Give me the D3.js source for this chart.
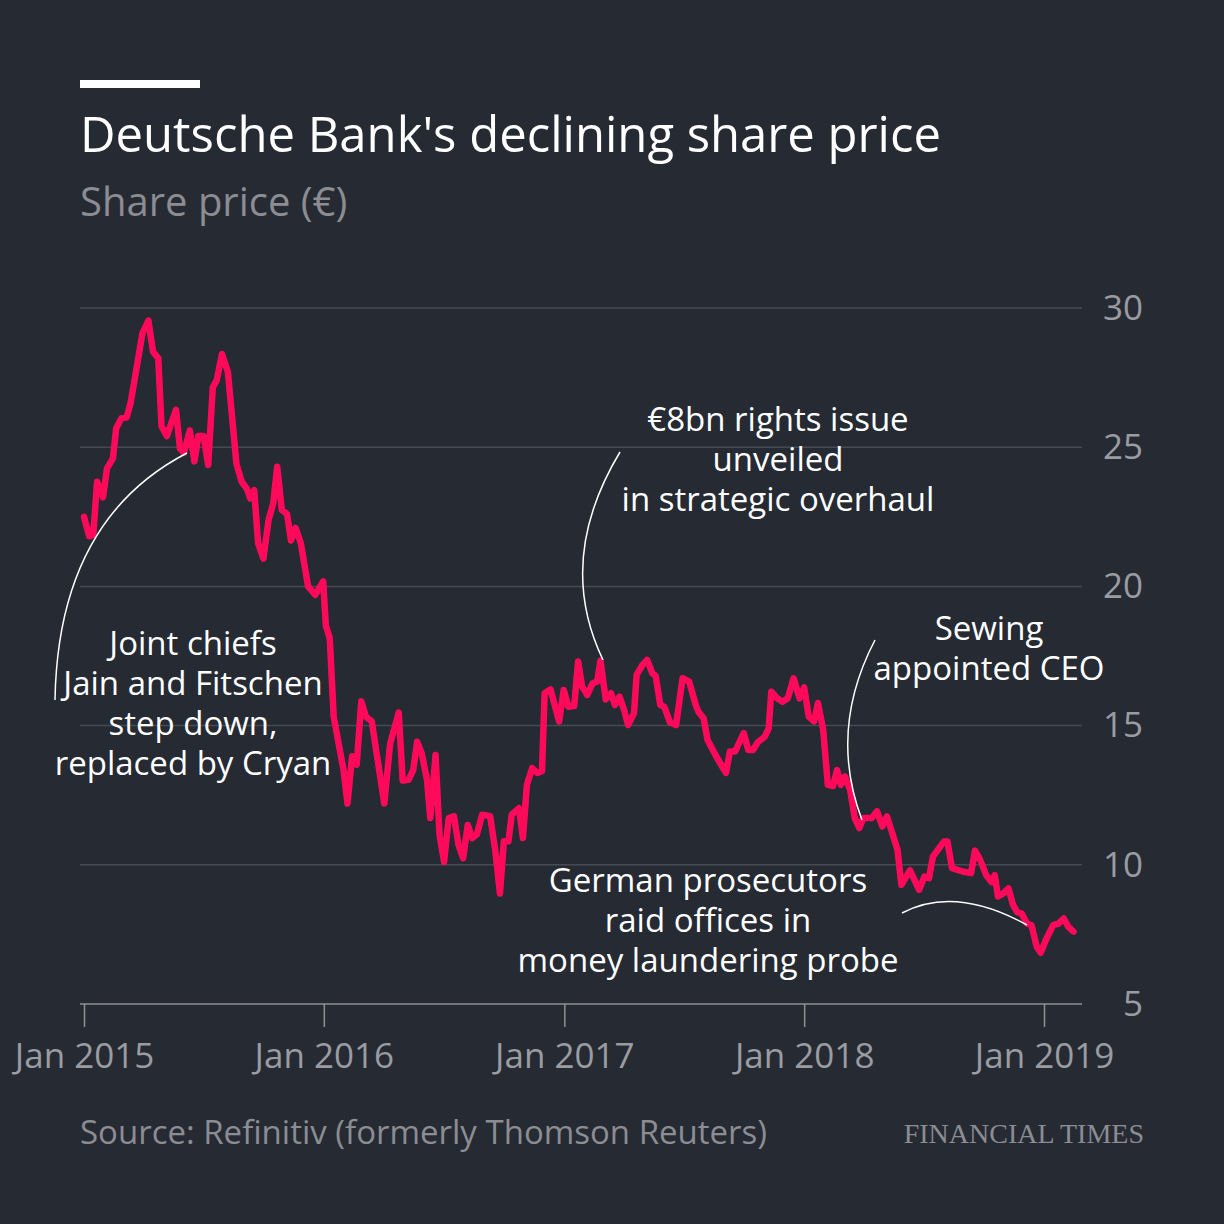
<!DOCTYPE html>
<html>
<head>
<meta charset="utf-8">
<script src="https://cdn.jsdelivr.net/npm/d3@7"></script>
<style>
  html, body { margin: 0; padding: 0; background: #262a33; }
  svg { display: block; }
</style>
</head>
<body>
<div id="chart"></div>
<script>
// Share price data (weekly-ish closes)
const dates = [
  "2015-01-01","2015-01-09","2015-01-15","2015-01-21","2015-01-30","2015-02-05","2015-02-14","2015-02-19",
  "2015-02-27","2015-03-07","2015-03-13","2015-03-21","2015-03-31","2015-04-09","2015-04-16","2015-04-24",
  "2015-04-29","2015-05-07","2015-05-21","2015-05-27","2015-06-02","2015-06-11","2015-06-18","2015-06-24",
  "2015-07-02","2015-07-09","2015-07-16","2015-07-22","2015-07-30","2015-08-08","2015-08-21","2015-08-29",
  "2015-09-06","2015-09-11","2015-09-17","2015-09-23","2015-10-01","2015-10-09","2015-10-16","2015-10-22",
  "2015-10-29","2015-11-06","2015-11-12","2015-11-19","2015-11-27","2015-12-08","2015-12-19","2015-12-31",
  "2016-01-04","2016-01-10","2016-01-16","2016-01-23","2016-01-31","2016-02-06","2016-02-13","2016-02-20",
  "2016-02-27","2016-03-05","2016-03-14","2016-03-22","2016-04-02","2016-04-11","2016-04-24","2016-04-30",
  "2016-05-09","2016-05-16","2016-05-22","2016-05-29","2016-06-06","2016-06-11","2016-06-19","2016-06-25",
  "2016-07-02","2016-07-09","2016-07-17","2016-07-24","2016-07-31","2016-08-07","2016-08-14","2016-08-21",
  "2016-08-29","2016-09-10","2016-09-18","2016-09-25","2016-10-01","2016-10-08","2016-10-13","2016-10-24",
  "2016-10-30","2016-11-05","2016-11-13","2016-11-21","2016-11-28","2016-12-02","2016-12-11","2016-12-24",
  "2016-12-31","2017-01-07","2017-01-16","2017-01-22","2017-01-28","2017-02-05","2017-02-13","2017-02-20",
  "2017-02-25","2017-03-05","2017-03-13","2017-03-19","2017-03-26","2017-04-02","2017-04-08","2017-04-17",
  "2017-04-21","2017-04-30","2017-05-07","2017-05-15","2017-05-20","2017-05-27","2017-06-02","2017-06-11",
  "2017-06-20","2017-06-30","2017-07-10","2017-07-20","2017-07-24","2017-08-01","2017-08-07","2017-08-15",
  "2017-08-25","2017-09-04","2017-09-10","2017-09-18","2017-10-01","2017-10-08","2017-10-15","2017-10-23",
  "2017-11-02","2017-11-08","2017-11-12","2017-11-21","2017-11-29","2017-12-07","2017-12-16","2017-12-25",
  "2018-01-01","2018-01-08","2018-01-16","2018-01-22","2018-01-30","2018-02-06","2018-02-14","2018-02-20",
  "2018-02-26","2018-03-04","2018-03-12","2018-03-19","2018-03-26","2018-04-01","2018-04-14","2018-04-22",
  "2018-04-30","2018-05-07","2018-05-15","2018-05-23","2018-05-29","2018-06-11","2018-06-25","2018-07-03",
  "2018-07-10","2018-07-16","2018-08-02","2018-08-07","2018-08-14","2018-08-30","2018-09-12","2018-09-18",
  "2018-09-26","2018-10-05","2018-10-13","2018-10-18","2018-10-23","2018-10-31","2018-11-08","2018-11-15",
  "2018-11-21","2018-11-28","2018-12-06","2018-12-13","2018-12-21","2018-12-27","2019-01-05","2019-01-15",
  "2019-01-23","2019-01-31","2019-02-07","2019-02-15"
];
const prices = [
  22.5, 21.8, 21.85, 23.76, 23.2, 24.24, 24.6, 25.68,
  26.04, 26.07, 26.6, 27.7, 29.1, 29.55, 28.43, 28.2,
  25.75, 25.4, 26.34, 24.96, 24.8, 25.6, 24.49, 25.4,
  25.4, 24.36, 27.15, 27.4, 28.35, 27.7, 24.4, 23.76,
  23.5, 23.16, 23.46, 21.55, 21.0, 22.4, 22.98, 24.3,
  22.75, 22.6, 21.65, 22.1, 21.55, 20.0, 19.7, 20.18,
  18.6, 18.14, 15.32, 14.42, 13.4, 12.2, 13.9, 13.6,
  15.87, 15.32, 15.15, 13.9, 12.2, 14.36, 15.47, 13.03,
  13.05, 13.4, 14.42, 14.0, 13.05, 11.68, 13.94, 11.1,
  10.1, 11.68, 11.74, 10.71, 10.24, 11.43, 10.96, 11.1,
  11.8, 11.75, 10.5, 8.97, 10.85, 10.85, 11.8, 12.03,
  10.96, 12.87, 13.47, 13.3, 13.36, 16.16, 16.3, 15.15,
  16.28, 15.68, 15.7, 17.3, 16.41, 16.1, 16.52, 16.58,
  17.33, 15.94, 16.16, 15.74, 16.04, 15.56, 15.02, 15.44,
  16.82, 17.18, 17.36, 16.88, 16.78, 15.74, 15.68, 15.11,
  15.02, 16.7, 16.58, 15.74, 15.5, 15.26, 14.48, 14.12,
  13.7, 13.3, 14.07, 14.07, 14.73, 14.12, 14.12, 14.42,
  14.6, 14.9, 16.22, 15.98, 15.86, 15.98, 16.7, 15.98,
  16.37, 15.32, 15.15, 15.81, 14.84, 12.87, 12.83, 13.4,
  12.87, 13.17, 12.69, 11.68, 11.32, 11.68, 11.68, 11.92,
  11.38, 11.74, 11.14, 10.54, 9.28, 9.8, 9.1, 9.58,
  9.52, 10.3, 10.84, 10.84, 9.88, 9.76, 9.7, 10.51,
  10.17, 9.63, 9.38, 9.63, 8.86, 8.97, 9.15, 8.55,
  8.31, 8.25, 7.89, 7.83, 7.05, 6.84, 7.36, 7.83,
  7.89, 8.07, 7.77, 7.6
];
const yTicks = [5, 10, 15, 20, 25, 30];
const xTicks = ["2015-01-01", "2016-01-01", "2017-01-01", "2018-01-01", "2019-01-01"];

const annotations = [
  { lines: ["Joint chiefs", "Jain and Fitschen", "step down,", "replaced by Cryan"], x: 193, y: 655,
    path: "M55,700 Q58,520 187,453" },
  { lines: ["€8bn rights issue", "unveiled", "in strategic overhaul"], x: 778, y: 431,
    path: "M620,452 Q555,560 603,660" },
  { lines: ["Sewing", "appointed CEO"], x: 989, y: 640,
    path: "M875,640 Q828,730 862,820" },
  { lines: ["German prosecutors", "raid offices in", "money laundering probe"], x: 708, y: 892,
    path: "M902,913 Q955,885 1027,925" }
];

const W = 1224, H = 1224;
const sans = "'Open Sans', sans-serif";
const parse = d3.timeParse("%Y-%m-%d");
const data = dates.map((d, i) => ({ date: parse(d), value: prices[i] }));

const svg = d3.select("#chart").append("svg")
  .attr("width", W)
  .attr("height", H)
  .style("font-family", sans);

svg.append("rect").attr("width", W).attr("height", H).attr("fill", "#262a33");

// Header
svg.append("rect").attr("x", 80).attr("y", 80).attr("width", 120).attr("height", 8).attr("fill", "#ffffff");
svg.append("text").attr("x", 80).attr("y", 152)
  .attr("fill", "#ffffff").attr("font-size", 49)
  .text("Deutsche Bank's declining share price");
svg.append("text").attr("x", 80).attr("y", 216)
  .attr("fill", "#8b8d92").attr("font-size", 40)
  .text("Share price (€)");

// Scales
const x = d3.scaleTime()
  .domain([parse("2015-01-01"), parse("2019-01-01")])
  .range([84, 1044]);
const y = d3.scaleLinear()
  .domain([5, 30])
  .range([1004, 308]);

// Gridlines
svg.append("g")
  .selectAll("line")
  .data(yTicks.filter(t => t !== 5))
  .join("line")
  .attr("x1", 80).attr("x2", 1082)
  .attr("y1", d => y(d)).attr("y2", d => y(d))
  .attr("stroke", "#464a52").attr("stroke-width", 1.5);

// Y axis labels (right)
const yAxis = svg.append("g")
  .attr("transform", "translate(1143,0)")
  .call(d3.axisRight(y).tickValues(yTicks).tickSize(0).tickPadding(0));
yAxis.select(".domain").remove();
yAxis.selectAll("text")
  .attr("text-anchor", "end")
  .attr("fill", "#9a9ca1")
  .style("font-size", "35px")
  .style("font-family", sans);

// X axis
const xAxis = svg.append("g")
  .attr("transform", "translate(0,1004)")
  .call(d3.axisBottom(x)
    .tickValues(xTicks.map(parse))
    .tickSize(23)
    .tickSizeOuter(0)
    .tickPadding(0)
    .tickFormat(d3.timeFormat("Jan %Y")));
xAxis.select(".domain")
  .attr("d", "M80,0H1082")
  .attr("stroke", "#8f9196").attr("stroke-width", 1.5);
xAxis.selectAll(".tick line").attr("stroke", "#8f9196").attr("stroke-width", 1.5);
xAxis.selectAll("text")
  .attr("y", 64)
  .attr("dy", null)
  .attr("fill", "#9a9ca1")
  .style("font-size", "35px")
  .style("font-family", sans);

// Price line
const line = d3.line()
  .x(d => x(d.date))
  .y(d => y(d.value));

svg.append("path")
  .datum(data)
  .attr("d", line)
  .attr("fill", "none")
  .attr("stroke", "#ff0a5a")
  .attr("stroke-width", 6.5)
  .attr("stroke-linejoin", "round")
  .attr("stroke-linecap", "round");

// Annotations
const ann = svg.append("g");
annotations.forEach(a => {
  ann.append("path")
    .attr("d", a.path)
    .attr("fill", "none")
    .attr("stroke", "#ffffff")
    .attr("stroke-width", 1.5);
  ann.append("text")
    .attr("text-anchor", "middle")
    .attr("fill", "#ffffff")
    .attr("font-size", 33)
    .selectAll("tspan")
    .data(a.lines)
    .join("tspan")
    .attr("x", a.x)
    .attr("y", (d, i) => a.y + i * 40)
    .text(d => d);
});

// Footer
svg.append("text").attr("x", 80).attr("y", 1144)
  .attr("fill", "#8b8d92").attr("font-size", 33)
  .text("Source: Refinitiv (formerly Thomson Reuters)");
svg.append("text").attr("x", 1144).attr("y", 1143)
  .attr("text-anchor", "end")
  .attr("fill", "#8b8d92")
  .style("font-size", "28px")
  .style("font-family", "'Liberation Serif', serif")
  .text("FINANCIAL TIMES");
</script>
</body>
</html>
